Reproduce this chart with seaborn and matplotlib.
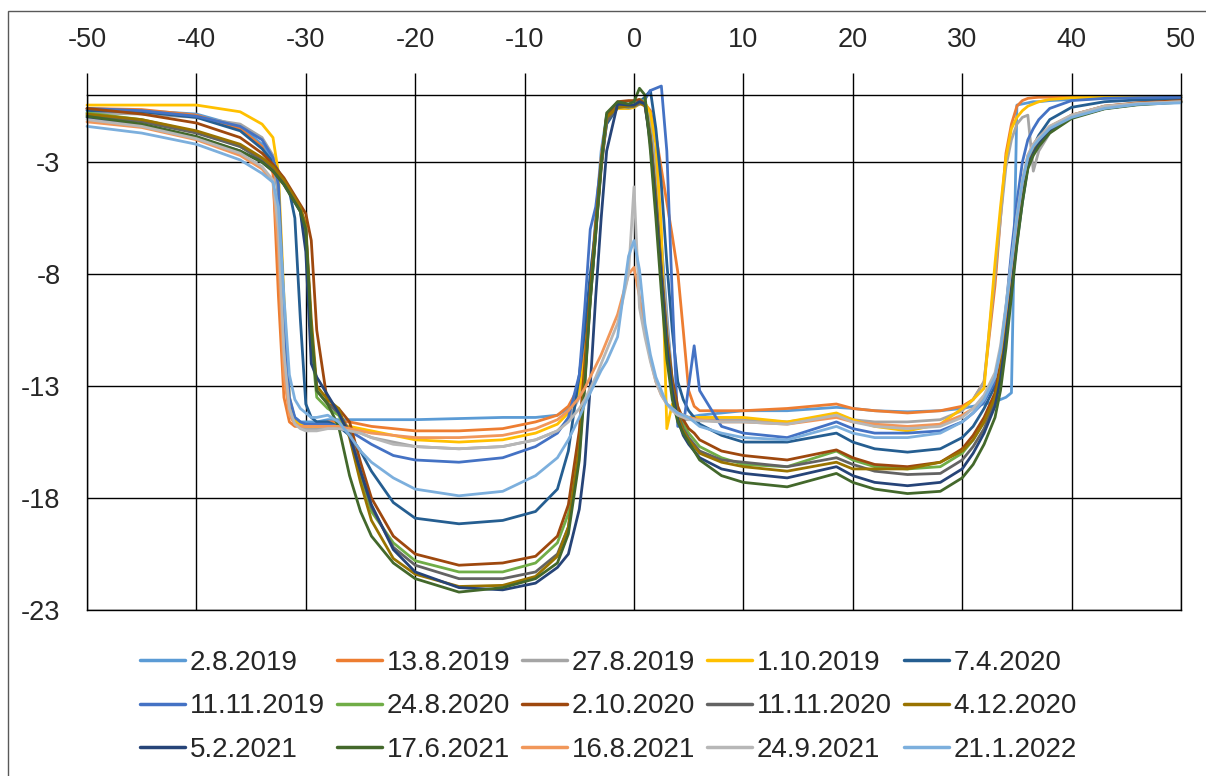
import pandas as pd
import seaborn as sns
import matplotlib.pyplot as plt
from matplotlib.lines import Line2D
from matplotlib.patches import Rectangle

# shared x positions of the readings
x_pos = [-50, -45, -40, -36, -34, -33, -32.5, -32, -31.5, -31,
         -30.5, -30, -29.5, -29, -28, -27, -26, -25, -24, -22,
         -20, -16, -12, -9, -7, -6, -5, -4.5, -4, -3.5,
         -3, -2.5, -1.5, -0.5, 0, 0.5, 1, 1.5, 2, 2.5,
         3, 3.5, 4, 4.5, 5, 5.5, 6, 8, 10, 14,
         18.5, 20, 22, 25, 28, 30, 31, 32, 33, 33.5,
         34, 34.5, 35, 35.5, 36, 36.5, 37, 38, 40, 43,
         46, 50]

dates = ["2.8.2019", "13.8.2019", "27.8.2019", "1.10.2019", "7.4.2020",
         "11.11.2019", "24.8.2020", "2.10.2020", "11.11.2020", "4.12.2020",
         "5.2.2021", "17.6.2021", "16.8.2021", "24.9.2021", "21.1.2022"]

colors = ["#5B9BD5", "#ED7D31", "#A5A5A5", "#FFC000", "#255E91",
          "#4472C4", "#70AD47", "#9E480E", "#636363", "#997300",
          "#264478", "#43682B", "#F1975A", "#B7B7B7", "#7CAFDD"]

y_ticks = [-23, -18, -13, -8, -3]
x_ticks = list(range(-50, 51, 10))

d_2_8_2019 = [-0.65, -0.7, -0.85, -1.4, -2.2, -2.9, -4.5, -10.5, -13.8, -14.4,
              -14.6, -14.6, -14.6, -14.6, -14.5, -14.5, -14.5, -14.5, -14.5, -14.5,
              -14.5, -14.45, -14.4, -14.4, -14.3, -14.0, -13.2, -11.5, -8.5, -5.5,
              -2.5, -0.9, -0.5, -0.55, -0.5, -0.35, -0.3, -1.2, -3.5, -6.5,
              -9.8, -12.8, -14.2, -14.4, -14.4, -14.35, -14.3, -14.2, -14.1, -14.1,
              -13.95, -14.0, -14.1, -14.15, -14.1, -14.0, -13.9, -13.8, -13.7, -13.6,
              -13.5, -13.3, -0.45, -0.4, -0.35, -0.3, -0.3, -0.25, -0.2, -0.15,
              -0.12, -0.1]
d_13_8_2019 = [-0.6, -0.65, -0.9, -1.5, -2.3, -3.5, -9.0, -13.5, -14.6, -14.8,
               -14.8, -14.8, -14.8, -14.7, -14.6, -14.6, -14.6, -14.7, -14.8, -14.9,
               -15.0, -15.0, -14.9, -14.6, -14.3, -13.9, -13.0, -11.5, -8.8, -5.8,
               -2.8, -1.0, -0.55, -0.55, -0.5, -0.4, -0.4, -0.7, -1.8, -3.3,
               -4.8, -6.3, -7.9, -10.5, -13.2, -13.9, -14.1, -14.1, -14.1, -14.0,
               -13.8, -14.0, -14.1, -14.2, -14.1, -13.9, -13.6, -12.8, -8.5, -5.5,
               -2.6, -1.3, -0.5, -0.25, -0.15, -0.12, -0.1, -0.1, -0.1, -0.1,
               -0.1, -0.1]
d_27_8_2019 = [-0.8, -0.85, -1.0, -1.3, -1.9, -2.7, -4.5, -10.0, -13.8, -14.6,
               -14.8, -14.9, -14.9, -14.9, -14.9, -14.9, -15.0, -15.1, -15.3, -15.5,
               -15.7, -15.8, -15.7, -15.4, -15.0, -14.5, -13.5, -12.0, -9.2, -6.2,
               -3.2, -1.1, -0.6, -0.6, -0.55, -0.4, -0.35, -1.2, -3.5, -6.8,
               -10.0, -13.0, -14.3, -14.5, -14.5, -14.5, -14.5, -14.5, -14.5, -14.6,
               -14.3, -14.5, -14.6, -14.6, -14.5, -14.1, -13.6, -12.8, -8.0, -5.5,
               -3.2, -2.0, -1.3, -1.0, -0.9, -3.4, -2.5, -1.7, -1.0, -0.6,
               -0.4, -0.3]
d_1_10_2019 = [-0.45, -0.45, -0.45, -0.75, -1.3, -1.9, -3.5, -9.0, -13.5, -14.5,
               -14.7, -14.8, -14.8, -14.8, -14.7, -14.7, -14.8, -14.9, -15.0, -15.2,
               -15.4, -15.5, -15.4, -15.1, -14.7, -14.2, -13.2, -11.8, -9.0, -6.0,
               -3.0, -1.0, -0.6, -0.6, -0.55, -0.4, -0.35, -0.8, -2.2, -6.0,
               -14.9, -13.8, -14.2, -14.3, -14.4, -14.4, -14.4, -14.4, -14.4, -14.6,
               -14.2, -14.5, -14.8, -15.0, -14.7, -14.0, -13.6, -13.1, -7.5, -5.0,
               -2.8, -1.5, -1.0, -0.7, -0.5, -0.4, -0.3, -0.2, -0.12, -0.1,
               -0.1, -0.1]
d_7_4_2020 = [-0.7, -0.75, -1.0, -1.6, -2.4, -3.0, -3.4, -3.8, -4.3, -5.5,
              -10.0, -13.8, -14.4, -14.6, -14.6, -14.8, -15.2, -15.9, -16.8, -18.2,
              -18.9, -19.15, -19.0, -18.6, -17.6, -15.9, -12.5, -10.5, -8.0, -6.0,
              -3.0, -1.3, -0.55, -0.5, -0.5, -0.3, -0.1, 0.2, -1.5, -4.0,
              -7.5, -10.5, -12.8, -13.6, -14.1, -14.4, -14.7, -15.2, -15.5, -15.5,
              -15.1, -15.5, -15.8, -15.95, -15.8, -15.3, -14.8, -14.0, -13.0, -12.0,
              -10.5, -8.6, -6.6, -4.8, -3.2, -2.3, -1.8, -1.1, -0.55, -0.3,
              -0.22, -0.18]
d_11_11_2019 = [-0.6, -0.7, -0.95, -1.4, -2.0, -2.8, -4.0, -9.5, -13.5, -14.4,
                -14.6, -14.7, -14.7, -14.7, -14.7, -14.8, -15.0, -15.3, -15.6, -16.1,
                -16.3, -16.4, -16.2, -15.7, -15.1, -14.4, -12.5, -9.5, -6.0, -5.0,
                -3.0, -1.0, -0.5, -0.55, -0.5, -0.4, -0.2, 0.2, 0.3, 0.4,
                -2.5, -9.0, -14.8, -14.8, -13.0, -11.2, -13.2, -14.8, -15.1, -15.3,
                -14.6, -14.9, -15.1, -15.1, -15.0, -14.6, -14.2, -13.7, -12.8, -11.5,
                -9.5, -7.0, -4.8, -3.0, -2.0, -1.5, -1.1, -0.6, -0.25, -0.15,
                -0.12, -0.1]
d_24_8_2020 = [-0.8, -1.1, -1.65, -2.3, -2.9, -3.3, -3.6, -3.9, -4.3, -4.7,
               -5.2, -6.5, -11.0, -13.5, -14.0, -14.3, -15.2, -17.0, -18.6, -20.0,
               -20.8, -21.3, -21.3, -20.9, -20.0, -18.7, -15.5, -12.5, -9.0, -6.0,
               -3.2, -1.0, -0.5, -0.5, -0.45, -0.2, -0.3, -1.8, -4.5, -7.8,
               -10.8, -12.8, -14.0, -14.7, -15.1, -15.4, -15.7, -16.2, -16.5, -16.6,
               -15.9, -16.3, -16.6, -16.7, -16.6, -16.0, -15.4, -14.6, -13.5, -12.3,
               -10.5, -8.5, -6.3, -4.5, -3.2, -2.6, -2.2, -1.6, -1.0, -0.6,
               -0.42, -0.3]
d_2_10_2020 = [-0.6, -0.85, -1.25, -1.9, -2.6, -3.1, -3.4, -3.7, -4.1, -4.5,
               -4.9, -5.3, -6.5, -10.5, -13.8, -14.0, -14.6, -16.4, -18.0, -19.7,
               -20.5, -21.0, -20.9, -20.6, -19.7, -18.3, -15.0, -12.0, -8.8, -5.8,
               -3.0, -0.9, -0.3, -0.25, -0.25, -0.2, -0.4, -1.9, -4.6, -7.8,
               -10.7, -12.7, -13.9, -14.5, -14.9, -15.1, -15.4, -15.9, -16.1, -16.3,
               -15.85, -16.2, -16.5, -16.6, -16.4, -15.8, -15.2, -14.4, -13.3, -12.0,
               -10.2, -8.2, -6.0, -4.3, -3.0, -2.4, -2.0, -1.5, -0.9, -0.5,
               -0.35, -0.25]
d_11_11_2020 = [-0.9, -1.2, -1.7, -2.3, -2.9, -3.3, -3.6, -3.9, -4.3, -4.7,
                -5.1, -6.0, -10.5, -13.2, -13.8, -14.2, -15.0, -16.8, -18.4, -20.2,
                -21.0, -21.6, -21.6, -21.3, -20.5, -19.3, -16.0, -12.8, -9.2, -6.2,
                -3.3, -1.2, -0.5, -0.45, -0.45, -0.3, -0.4, -2.0, -4.8, -8.0,
                -11.0, -13.0, -14.2, -14.9, -15.3, -15.6, -15.9, -16.3, -16.4, -16.6,
                -16.2, -16.5, -16.8, -16.95, -16.9, -16.3, -15.7, -14.9, -13.7, -12.5,
                -10.6, -8.5, -6.2, -4.4, -3.1, -2.5, -2.1, -1.5, -0.95, -0.55,
                -0.4, -0.3]
d_4_12_2020 = [-0.85, -1.1, -1.6, -2.2, -2.8, -3.2, -3.5, -3.8, -4.2, -4.6,
               -5.0, -5.8, -10.0, -13.0, -13.6, -14.0, -15.3, -17.3, -19.0, -20.7,
               -21.4, -21.95, -21.9, -21.5, -20.6, -19.3, -15.8, -12.6, -9.0, -6.0,
               -3.1, -1.0, -0.55, -0.5, -0.5, -0.35, -0.5, -2.0, -4.8, -8.0,
               -11.0, -13.0, -14.3, -15.0, -15.4, -15.7, -16.0, -16.4, -16.6, -16.8,
               -16.4, -16.7, -16.7, -16.7, -16.4, -15.9, -15.4, -14.6, -13.5, -12.3,
               -10.4, -8.3, -6.1, -4.3, -3.1, -2.5, -2.1, -1.5, -0.95, -0.55,
               -0.4, -0.3]
d_5_2_2021 = [-1.0, -1.35, -1.9, -2.5, -3.0, -3.4, -3.7, -4.0, -4.4, -4.8,
              -5.2, -7.0, -12.0, -12.6, -13.4, -14.2, -15.2, -16.8, -18.3, -20.3,
              -21.3, -22.0, -22.1, -21.8, -21.1, -20.5, -18.5, -16.5, -13.0, -9.0,
              -5.5, -2.5, -0.4, -0.45, -0.45, -0.3, -0.4, -2.2, -5.0, -8.2,
              -11.2, -13.2, -14.5, -15.2, -15.6, -15.9, -16.2, -16.7, -16.9, -17.1,
              -16.6, -17.0, -17.3, -17.45, -17.3, -16.7, -16.0, -15.1, -13.9, -12.7,
              -10.8, -8.7, -6.4, -4.6, -3.2, -2.6, -2.2, -1.6, -1.0, -0.6,
              -0.42, -0.3]
d_17_6_2021 = [-0.95, -1.3, -1.85, -2.5, -3.0, -3.4, -3.7, -4.0, -4.4, -4.8,
               -5.2, -6.0, -10.5, -13.2, -13.8, -14.8, -17.0, -18.6, -19.7, -20.9,
               -21.6, -22.2, -22.0, -21.6, -20.9, -19.6, -16.3, -13.0, -9.2, -6.2,
               -3.1, -0.8, -0.3, -0.4, -0.3, 0.3, 0.0, -2.5, -5.5, -8.8,
               -11.8, -13.6, -14.6, -15.1, -15.5, -15.9, -16.3, -17.0, -17.3, -17.5,
               -16.9, -17.3, -17.6, -17.8, -17.7, -17.1, -16.5, -15.6, -14.4, -13.2,
               -11.3, -9.0, -6.7, -4.8, -3.3, -2.7, -2.3, -1.7, -1.05, -0.62,
               -0.44, -0.32]
d_16_8_2021 = [-1.2, -1.45, -2.0, -2.7, -3.3, -3.9, -7.0, -12.5, -14.3, -14.7,
               -14.8, -14.8, -14.8, -14.8, -14.8, -14.8, -14.9, -15.0, -15.1, -15.2,
               -15.3, -15.3, -15.2, -14.9, -14.5, -14.1, -13.5, -13.1, -12.6, -12.1,
               -11.6, -11.0, -9.8, -8.0, -7.7, -9.0, -10.5, -11.8, -12.8, -13.4,
               -13.8, -14.0, -14.2, -14.3, -14.4, -14.45, -14.5, -14.6, -14.6, -14.7,
               -14.4, -14.6, -14.7, -14.8, -14.7, -14.3, -14.0, -13.5, -12.6, -11.5,
               -9.6, -7.6, -5.6, -3.9, -2.7, -2.2, -1.9, -1.4, -0.9, -0.5,
               -0.38, -0.3]
d_24_9_2021 = [-1.1, -1.4, -1.95, -2.6, -3.2, -3.8, -6.0, -11.5, -14.0, -14.7,
               -14.9, -15.0, -15.0, -15.0, -14.9, -14.9, -15.0, -15.1, -15.3, -15.6,
               -15.7, -15.8, -15.7, -15.4, -15.0, -14.6, -14.0, -13.6, -13.1, -12.6,
               -12.0, -11.4, -10.2, -8.0, -4.1, -9.5, -10.8, -11.9, -12.8, -13.4,
               -13.8, -14.1, -14.3, -14.4, -14.5, -14.5, -14.55, -14.6, -14.6, -14.7,
               -14.3, -14.6, -14.8, -14.9, -14.8, -14.4, -14.0, -13.4, -12.4, -11.2,
               -9.4, -7.4, -5.4, -3.8, -2.7, -2.2, -1.9, -1.4, -0.9, -0.5,
               -0.38, -0.3]
d_21_1_2022 = [-1.4, -1.7, -2.2, -2.9, -3.5, -3.9, -5.0, -9.0, -12.5, -13.6,
               -14.0, -14.2, -14.4, -14.4, -14.3, -14.6, -15.2, -15.9, -16.4, -17.1,
               -17.6, -17.9, -17.7, -17.0, -16.2, -15.4, -14.4, -13.8, -13.3, -12.8,
               -12.3, -11.9, -10.8, -7.2, -6.5, -7.8, -10.2, -11.6, -12.6, -13.2,
               -13.8, -14.0, -14.2, -14.3, -14.4, -14.6, -14.8, -15.1, -15.3, -15.4,
               -14.8, -15.1, -15.3, -15.3, -15.1, -14.6, -14.2, -13.6, -12.6, -11.4,
               -9.5, -7.5, -5.5, -3.9, -2.8, -2.3, -2.0, -1.5, -1.0, -0.6,
               -0.42, -0.35]

series = [d_2_8_2019, d_13_8_2019, d_27_8_2019, d_1_10_2019, d_7_4_2020,
          d_11_11_2019, d_24_8_2020, d_2_10_2020, d_11_11_2020, d_4_12_2020,
          d_5_2_2021, d_17_6_2021, d_16_8_2021, d_24_9_2021, d_21_1_2022]

df = pd.concat(
    [pd.DataFrame({"x": x_pos, "y": ys, "date": d}) for d, ys in zip(dates, series)],
    ignore_index=True,
)

sns.set_style("white")
plt.rcParams["font.family"] = ["Liberation Sans", "DejaVu Sans"]
plt.rcParams["axes.unicode_minus"] = False
text_color = "#262626"

W, H = 1206, 776
fig = plt.figure(figsize=(W / 100, H / 100), dpi=100)
ax = fig.add_axes([87 / W, 1 - 610 / H, (1181 - 87) / W, (610 - 95) / H])

sns.lineplot(data=df, x="x", y="y", hue="date", hue_order=dates,
             palette=dict(zip(dates, colors)), sort=False, estimator=None,
             linewidth=2.0, legend=False, ax=ax, clip_on=False)

ax.set_xlim(-50, 50)
ax.set_ylim(-23, 0)
ax.set_xticks(x_ticks)
ax.set_yticks(y_ticks)
ax.set_xlabel("")
ax.set_ylabel("")
ax.xaxis.tick_top()
ax.tick_params(axis="x", length=16, width=1.0, color="black", pad=14,
               labelsize=19.5, labelcolor=text_color)
ax.tick_params(axis="y", length=0, pad=19, labelsize=19.5, labelcolor=text_color)
ax.set_axisbelow(True)
ax.grid(True, color="black", linewidth=1.0)
for sp in ax.spines.values():
    sp.set_color("black")
    sp.set_linewidth(1.0)

# legend laid out row by row like the original
order = [r * 5 + c for c in range(5) for r in range(3)]
handles = [Line2D([], [], color=c, lw=2.5) for c in colors]
fig.legend([handles[k] for k in order], [dates[k] for k in order],
           loc="upper center", bbox_to_anchor=(0.5046, 1 - 636 / H), ncol=5,
           frameon=False, fontsize=20, handlelength=1.62, handletextpad=0.18,
           columnspacing=0.42, labelspacing=0.63, borderpad=0,
           labelcolor=text_color)

fig.add_artist(Rectangle((8 / W, -0.05), 1.1, 1 - 11 / H + 0.05,
                         transform=fig.transFigure, fill=False,
                         edgecolor="#595959", linewidth=1.0))

fig.savefig("out.png", dpi=100)
